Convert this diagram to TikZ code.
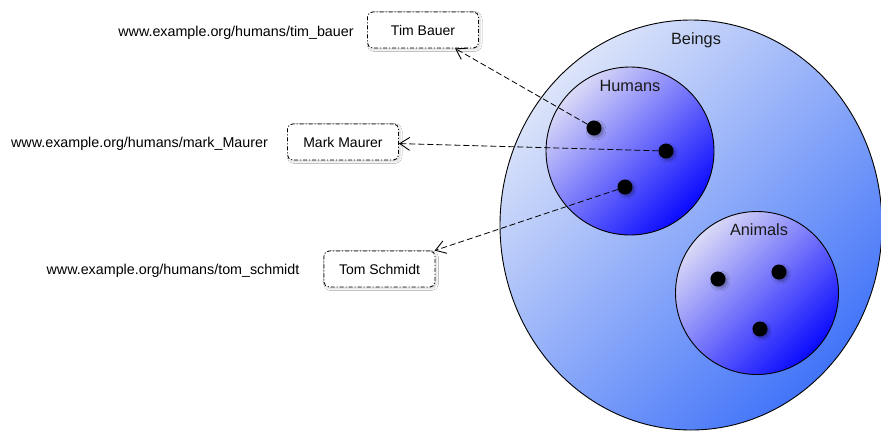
\documentclass[tikz,border=0pt]{standalone}
\usepackage{fontspec}
\setmainfont{Liberation Sans}
\usetikzlibrary{arrows.meta,shapes.geometric,shadows.blur}

\definecolor{beingsLight}{HTML}{DCE4F9}
\definecolor{beingsDark}{HTML}{4274F9}
\definecolor{setLight}{HTML}{DADAF7}
\definecolor{setDark}{HTML}{0A0AFF}

\tikzset{
  outer/.style={ellipse, draw=black, line width=0.9pt, inner sep=0pt,
    top color=beingsLight, bottom color=beingsDark, shading angle=45},
  subset/.style={circle, draw=black, line width=0.9pt, inner sep=0pt,
    top color=setLight, bottom color=setDark, shading angle=45},
  setlabel/.style={font=\fontsize{16.3}{18}\selectfont, text=black!90, inner sep=0pt},
  member/.style={circle, fill=black, minimum size=15pt, inner sep=0pt,
    blur shadow={shadow xshift=2pt, shadow yshift=-2pt,
      shadow blur radius=2.5pt, shadow opacity=35}},
  namebox/.style={draw=black, line width=0.85pt, rounded corners=5pt, fill=white,
    dash pattern=on 4pt off 2pt on 1pt off 2pt,
    minimum width=111pt, minimum height=36pt, inner sep=0pt,
    font=\fontsize{14}{16}\selectfont,
    blur shadow={shadow xshift=1.5pt, shadow yshift=-1.5pt,
      shadow blur radius=2pt, shadow opacity=18}},
  uri/.style={font=\fontsize{14.3}{16}\selectfont, inner sep=0pt},
  link/.style={draw=black, line width=0.8pt, dash pattern=on 6pt off 3pt,
    -{Straight Barb[length=10pt,width=13pt,line width=0.9pt]}}
}

\begin{document}
\begin{tikzpicture}[x=1pt,y=-1pt]
\useasboundingbox (0,0) rectangle (881,432);
\fill[white] (0,0) rectangle (881,432);

% nested sets
\node[outer, minimum width=382pt, minimum height=410pt] (beings) at (691,225) {};
\node[subset, minimum size=168pt] (humans) at (630,151) {};
\node[subset, minimum size=163pt] (animals) at (757,293) {};

\node[setlabel] (beingsLabel) at (696,40) {Beings};
\node[setlabel] (humansLabel) at (630,86) {Humans};
\node[setlabel] (animalsLabel) at (759,230) {Animals};

% members
\node[member] (tim) at (594,128) {};
\node[member] (mark) at (666,151) {};
\node[member] (tom) at (625,187) {};
\node[member] (a1) at (718,279) {};
\node[member] (a2) at (779,272) {};
\node[member] (a3) at (760,329) {};

% labelled resources
\node[namebox] (timBox) at (423,30) {Tim Bauer};
\node[namebox] (markBox) at (343,142) {Mark Maurer};
\node[namebox] (tomBox) at (379.5,269) {Tom Schmidt};

\node[uri] (timUri) at (236,33) {www.example.org/humans/tim\_bauer};
\node[uri] (markUri) at (139.5,144) {www.example.org/humans/mark\_Maurer};
\node[uri] (tomUri) at (173,271) {www.example.org/humans/tom\_schmidt};

% labelling links
\draw[link] (tim) -- (timBox);
\draw[link] (mark) -- (markBox);
\draw[link] (tom) -- (tomBox);
\end{tikzpicture}
\end{document}
